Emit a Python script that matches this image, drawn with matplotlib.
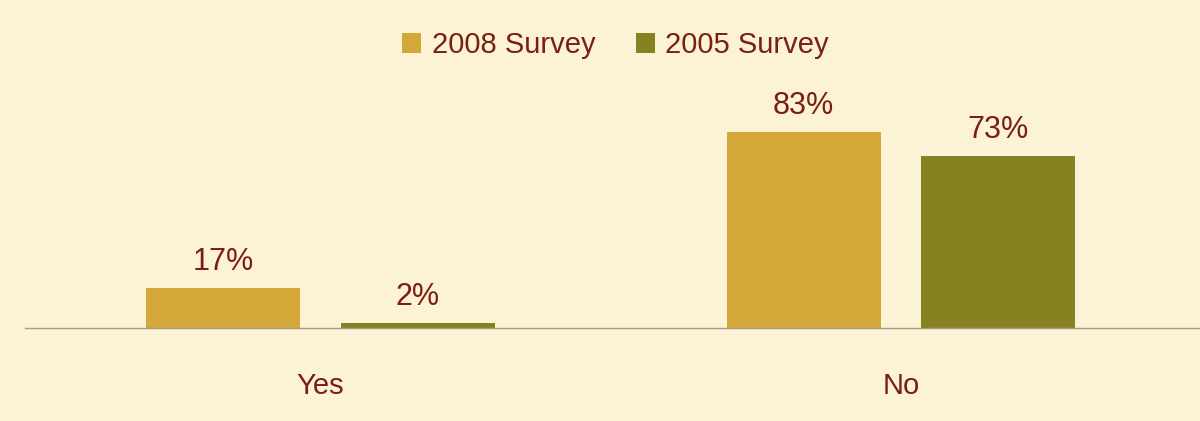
import numpy as np
from matplotlib import pyplot as plt

plt.rcParams['font.family'] = ['Liberation Sans', 'DejaVu Sans']

# Data
categories = ['Yes', 'No']
series_names = ['2008 Survey', '2005 Survey']
survey_2008 = [17, 83]
survey_2005 = [2, 73]

bg = '#FCF2D6'
text_color = '#7A1F12'
colors = ['#D4A838', '#868221']

fig = plt.figure(figsize=(12, 4.21), dpi=100, facecolor=bg)
ax = fig.add_axes([0.0208, 0.2209, 0.98, 0.5606])
ax.set_facecolor(bg)

x = np.arange(len(categories))
width = 0.265
offset = 0.1675

bars1 = ax.bar(x - offset, survey_2008, width, color=colors[0], label=series_names[0])
bars2 = ax.bar(x + offset, survey_2005, width, color=colors[1], label=series_names[1])

for bars, vals in [(bars1, survey_2008), (bars2, survey_2005)]:
    for b, v in zip(bars, vals):
        ax.annotate(f'{v}%', (b.get_x() + b.get_width() / 2, v),
                    xytext=(0, 8), textcoords='offset points',
                    ha='center', va='bottom', fontsize=22, color=text_color)

ax.set_xlim(-0.509, 1.517)
ax.set_ylim(0, 100)
ax.set_xticks(x)
ax.set_xticklabels(categories, fontsize=21, color=text_color)
ax.tick_params(axis='x', length=0, pad=32)
ax.set_yticks([])
for s in ['top', 'right', 'left']:
    ax.spines[s].set_visible(False)
ax.spines['bottom'].set_color('#A39C86')
ax.spines['bottom'].set_linewidth(1.0)

leg = fig.legend(loc='center', bbox_to_anchor=(0.513, 0.893), ncol=2,
                 frameon=False, fontsize=21, handlelength=0.65, handleheight=0.65,
                 handletextpad=0.35, columnspacing=1.4)
for t in leg.get_texts():
    t.set_color(text_color)

fig.savefig('out.png', dpi=100, facecolor=bg)
